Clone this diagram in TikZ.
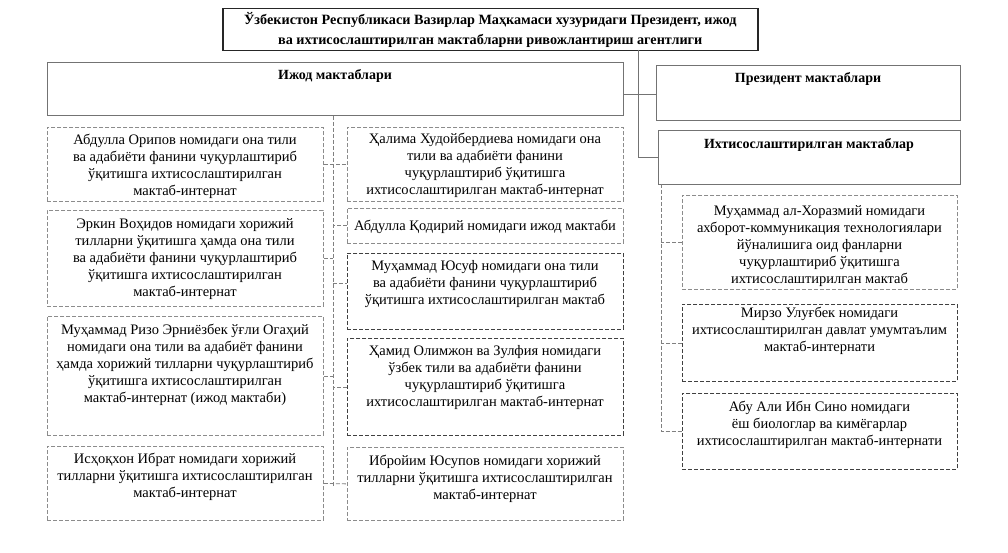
\documentclass[tikz,border=0pt]{standalone}
\usepackage{fontspec}
\setmainfont{Liberation Serif}
\begin{document}
\begin{tikzpicture}[x=1bp,y=-1bp,
  sbox/.style={draw=black!55, line width=0.8bp, rectangle, inner sep=0pt, anchor=north west},
  dbox/.style={draw=black!45, line width=0.8bp, dash pattern=on 4bp off 2bp, rectangle, inner sep=0pt, anchor=north west},
  ddark/.style={dbox, draw=black!75},
  txt/.style={align=center, inner sep=0pt, font=\fontsize{14.5bp}{17bp}\selectfont},
  btxt/.style={align=center, inner sep=0pt, font=\bfseries\fontsize{14bp}{17bp}\selectfont},
  conn/.style={draw=black!55, line width=0.8bp},
  dconn/.style={draw=black!50, line width=0.8bp, dash pattern=on 4bp off 2bp}]
\useasboundingbox[fill=white] (0,0) rectangle (1008,553);

% top box
\node[draw=black!85, line width=1.5bp, minimum width=535bp, minimum height=42bp, anchor=north west, inner sep=0pt, align=center, font=\bfseries\fontsize{14.2bp}{20bp}\selectfont] (top) at (222,8)
 {Ўзбекистон Республикаси Вазирлар Маҳкамаси хузуридаги Президент, ижод\\ва ихтисослаштирилган мактабларни ривожлантириш агентлиги};

% category boxes
\node[sbox, minimum width=576bp, minimum height=53bp] (izhod) at (47,62) {};
\node[btxt] (izhodt) at (335,76) {Ижод мактаблари};
\node[sbox, minimum width=304bp, minimum height=55bp] (prez) at (656,65) {};
\node[btxt] (prezt) at (808,79) {Президент мактаблари};
\node[sbox, minimum width=302bp, minimum height=54bp] (ikht) at (658,130) {};
\node[btxt] (ikhtt) at (809,145) {Ихтисослаштирилган мактаблар};

% left column
\node[dbox, minimum width=276bp, minimum height=74bp] (L1) at (47,127) {};
\node[txt] (L1t) at (185,166) {Абдулла Орипов номидаги она тили\\ва адабиёти фанини чуқурлаштириб\\ўқитишга ихтисослаштирилган\\мактаб-интернат};
\node[dbox, minimum width=276bp, minimum height=96bp] (L2) at (47,210) {};
\node[txt] (L2t) at (185,259) {Эркин Воҳидов номидаги хорижий\\тилларни ўқитишга ҳамда она тили\\ва адабиёти фанини чуқурлаштириб\\ўқитишга ихтисослаштирилган\\мактаб-интернат};
\node[dbox, minimum width=276bp, minimum height=119bp] (L3) at (47,316) {};
\node[txt] (L3t) at (185,365) {Муҳаммад Ризо Эрниёзбек ўғли Огаҳий\\номидаги она тили ва адабиёт фанини\\ҳамда хорижий тилларни чуқурлаштириб\\ўқитишга ихтисослаштирилган\\мактаб-интернат (ижод мактаби)};
\node[dbox, minimum width=276bp, minimum height=74bp] (L4) at (47,446) {};
\node[txt] (L4t) at (185,477) {Исҳоқхон Ибрат номидаги хорижий\\тилларни ўқитишга ихтисослаштирилган\\мактаб-интернат};

% middle column
\node[dbox, minimum width=276bp, minimum height=74bp] (M1) at (347,127) {};
\node[txt] (M1t) at (485,165.5) {Ҳалима Худойбердиева номидаги она\\тили ва адабиёти фанини\\чуқурлаштириб ўқитишга\\ихтисослаштирилган мактаб-интернат};
\node[dbox, minimum width=276bp, minimum height=35bp] (M2) at (347,208) {};
\node[txt] (M2t) at (485,226.5) {Абдулла Қодирий номидаги ижод мактаби};
\node[ddark, minimum width=276bp, minimum height=76bp] (M3) at (347,253) {};
\node[txt] (M3t) at (485,284.5) {Муҳаммад Юсуф номидаги она тили\\ва адабиёти фанини чуқурлаштириб\\ўқитишга ихтисослаштирилган мактаб};
\node[ddark, minimum width=276bp, minimum height=97bp] (M4) at (347,338) {};
\node[txt] (M4t) at (485,378) {Ҳамид Олимжон ва Зулфия номидаги\\ўзбек тили ва адабиёти фанини\\чуқурлаштириб ўқитишга\\ихтисослаштирилган мактаб-интернат};
\node[dbox, minimum width=276bp, minimum height=73bp] (M5) at (347,447) {};
\node[txt] (M5t) at (485,479) {Ибройим Юсупов номидаги хорижий\\тилларни ўқитишга ихтисослаштирилган\\мактаб-интернат};

% right column
\node[dbox, minimum width=275bp, minimum height=94bp] (R1) at (682,195) {};
\node[txt] (R1t) at (819.5,246) {Муҳаммад ал-Хоразмий номидаги\\ахборот-коммуникация технологиялари\\йўналишига оид фанларни\\чуқурлаштириб ўқитишга\\ихтисослаштирилган мактаб};
\node[ddark, minimum width=275bp, minimum height=77bp] (R2) at (682,304) {};
\node[txt] (R2t) at (819.5,331) {Мирзо Улуғбек номидаги\\ихтисослаштирилган давлат умумтаълим\\мактаб-интернати};
\node[ddark, minimum width=275bp, minimum height=76bp] (R3) at (682,393) {};
\node[txt] (R3t) at (819.5,424.5) {Абу Али Ибн Сино номидаги\\ёш биологлар ва кимёгарлар\\ихтисослаштирилган мактаб-интернати};

% solid connectors
\coordinate (trunk) at (638,50);
\draw[conn] (trunk) |- (ikht.west);
\coordinate (hb) at (623,94);
\draw[conn] (izhod.east |- hb) -- (prez.west |- hb);

% left dashed spine
\coordinate (lsEnd) at (333,486);
\draw[dconn] (izhod.south -| lsEnd) -- (lsEnd);
\draw[dconn] (L1.east) -- (M1.west);
\draw[dconn] (M2.west) -- (M2.west -| lsEnd);
\draw[dconn] (L2.east) -- (L2.east -| lsEnd);
\coordinate (m3b) at (333,283);
\draw[dconn] (m3b) -- (M3.west |- m3b);
\draw[dconn] (L3.east) -- (L3.east -| lsEnd);
\draw[dconn] (M4.west) -- (M4.west -| lsEnd);
\draw[dconn] (L4.east) -- (M5.west);

% right dashed spine
\coordinate (rs) at (661,184);
\draw[dconn] (rs) |- (R3.west);
\draw[dconn] (R1.west) -- (R1.west -| rs);
\draw[dconn] (R2.west) -- (R2.west -| rs);
\end{tikzpicture}
\end{document}
